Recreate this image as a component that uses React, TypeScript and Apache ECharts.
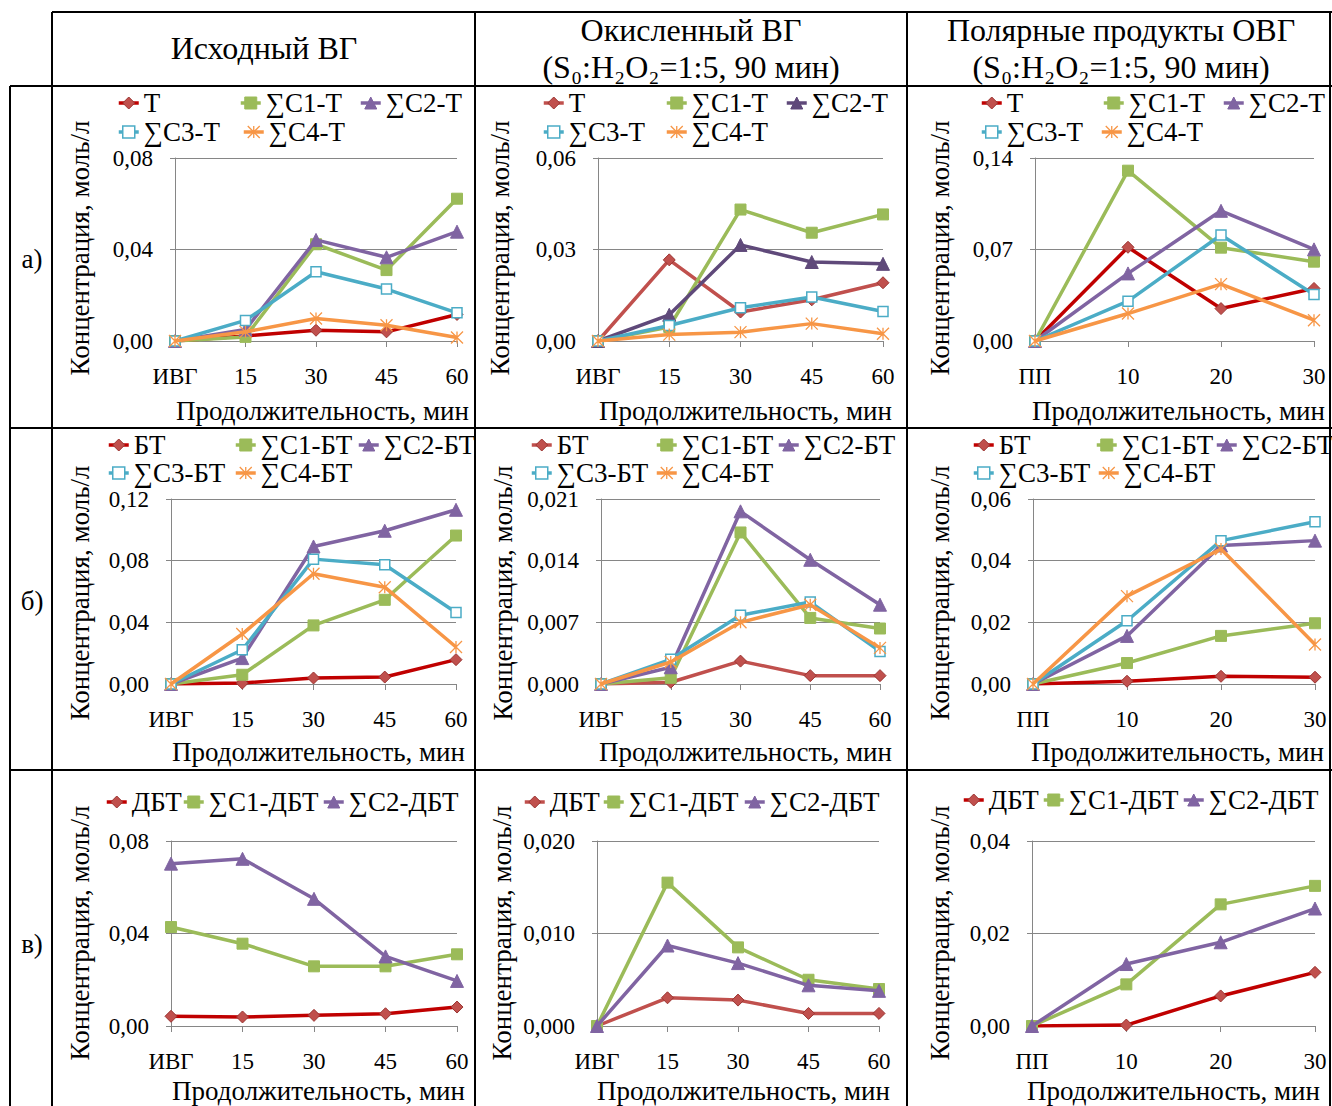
import React, { useEffect, useRef } from 'react';
import * as echarts from 'echarts';

const FONT = "'Liberation Serif', 'Times New Roman', serif";

// ---------- categories ----------
const catsIVG = ['ИВГ', '15', '30', '45', '60'];
const catsPP = ['ПП', '10', '20', '30'];

// ---------- series names ----------
const namesT = ['Т', '∑C1-Т', '∑C2-Т', '∑C3-Т', '∑C4-Т'];
const namesBT = ['БТ', '∑C1-БТ', '∑C2-БТ', '∑C3-БТ', '∑C4-БТ'];
const namesDBT = ['ДБТ', '∑C1-ДБТ', '∑C2-ДБТ'];

// ---------- а) Исходный ВГ ----------
const a1T = [0, 0.0022, 0.0047, 0.004, 0.0116];
const a1C1 = [0, 0.0018, 0.0423, 0.031, 0.0622];
const a1C2 = [0, 0.005, 0.0442, 0.0366, 0.0478];
const a1C3 = [0, 0.009, 0.0303, 0.0227, 0.0123];
const a1C4 = [0, 0.004, 0.0098, 0.0069, 0.0015];
// ---------- а) Окисленный ВГ ----------
const a2T = [0, 0.0266, 0.0095, 0.0135, 0.0191];
const a2C1 = [0, 0.0046, 0.0431, 0.0355, 0.0415];
const a2C2 = [0, 0.0086, 0.0315, 0.0259, 0.0253];
const a2C3 = [0, 0.0051, 0.0109, 0.0144, 0.0097];
const a2C4 = [0, 0.0021, 0.0029, 0.0057, 0.0024];
// ---------- а) Полярные продукты ----------
const a3T = [0, 0.0717, 0.0248, 0.0402];
const a3C1 = [0, 0.1303, 0.0714, 0.0607];
const a3C2 = [0, 0.0517, 0.0996, 0.0701];
const a3C3 = [0, 0.0305, 0.0811, 0.0356];
const a3C4 = [0, 0.021, 0.0435, 0.0159];
// ---------- б) Исходный ВГ ----------
const b1T = [0, 0.0006, 0.0039, 0.0045, 0.0158];
const b1C1 = [0, 0.006, 0.038, 0.0546, 0.0963];
const b1C2 = [0, 0.0168, 0.0892, 0.0994, 0.113];
const b1C3 = [0, 0.0222, 0.081, 0.0773, 0.0464];
const b1C4 = [0, 0.0324, 0.0715, 0.0628, 0.024];
// ---------- б) Окисленный ВГ ----------
const b2T = [0, 0.0002, 0.0026, 0.00095, 0.00095];
const b2C1 = [0, 0.0007, 0.0172, 0.0075, 0.0063];
const b2C2 = [0, 0.0019, 0.0196, 0.0141, 0.009];
const b2C3 = [0, 0.0028, 0.0078, 0.0093, 0.0037];
const b2C4 = [0, 0.0025, 0.007, 0.009, 0.0041];
// ---------- б) Полярные продукты ----------
const b3T = [0, 0.0009, 0.0025, 0.0022];
const b3C1 = [0, 0.0068, 0.0156, 0.0197];
const b3C2 = [0, 0.0156, 0.0449, 0.0465];
const b3C3 = [0, 0.0205, 0.0465, 0.0526];
const b3C4 = [0, 0.0285, 0.0438, 0.0128];
// ---------- в) Исходный ВГ ----------
const c1T = [0.0042, 0.0039, 0.0046, 0.0053, 0.0082];
const c1C1 = [0.0428, 0.0356, 0.0258, 0.0258, 0.031];
const c1C2 = [0.0702, 0.0723, 0.055, 0.0301, 0.0195];
// ---------- в) Окисленный ВГ ----------
const c2T = [0, 0.00305, 0.0028, 0.00136, 0.00136];
const c2C1 = [0, 0.0155, 0.0085, 0.005, 0.004];
const c2C2 = [0, 0.0087, 0.0068, 0.0044, 0.0038];
// ---------- в) Полярные продукты ----------
const c3T = [0, 0.0002, 0.0065, 0.0116];
const c3C1 = [0, 0.009, 0.0263, 0.0303];
const c3C2 = [0, 0.0134, 0.0181, 0.0254];

// ---------- y axes ----------
const yMaxes = [0.08, 0.06, 0.14, 0.12, 0.021, 0.06, 0.08, 0.02, 0.04];
const ySteps = [0.04, 0.03, 0.07, 0.04, 0.007, 0.02, 0.04, 0.01, 0.02];
const yDecimals = [2, 2, 2, 2, 3, 2, 2, 3, 2];

// ---------- headings ----------
const colHeads = ['Исходный ВГ', 'Окисленный ВГ', 'Полярные продукты ОВГ'];
const colSub = '(S₀:H₂O₂=1:5, 90 мин)';
const rowLabels = ['а)', 'б)', 'в)'];
const yTitle = 'Концентрация, моль/л';
const xTitle = 'Продолжительность, мин';

const panels = [
  { cats: catsIVG, names: namesT, values: [a1T, a1C1, a1C2, a1C3, a1C4] },
  { cats: catsIVG, names: namesT, values: [a2T, a2C1, a2C2, a2C3, a2C4] },
  { cats: catsPP, names: namesT, values: [a3T, a3C1, a3C2, a3C3, a3C4] },
  { cats: catsIVG, names: namesBT, values: [b1T, b1C1, b1C2, b1C3, b1C4] },
  { cats: catsIVG, names: namesBT, values: [b2T, b2C1, b2C2, b2C3, b2C4] },
  { cats: catsPP, names: namesBT, values: [b3T, b3C1, b3C2, b3C3, b3C4] },
  { cats: catsIVG, names: namesDBT, values: [c1T, c1C1, c1C2] },
  { cats: catsIVG, names: namesDBT, values: [c2T, c2C1, c2C2] },
  { cats: catsPP, names: namesDBT, values: [c3T, c3C1, c3C2] },
];

// ---------- layout (pixels) ----------
const gridBoxes = [
  [175, 158, 282, 183], [598, 158, 285, 183], [1035, 158, 279, 183],
  [171, 499, 285, 185], [601, 499, 279, 185], [1033, 499, 282, 185],
  [171, 841, 286, 185], [597, 841, 282, 185], [1032, 841, 283, 185],
];
const legendSpots = [
  [[117, 103], [239, 103], [359, 103], [117, 132], [242, 132]],
  [[542, 103], [665, 103], [785, 103], [542, 132], [665, 132]],
  [[980, 103], [1102, 103], [1222, 103], [980, 132], [1100, 132]],
  [[107, 445], [234, 445], [357, 445], [107, 473], [234, 473]],
  [[530, 445], [655, 445], [777, 445], [530, 473], [655, 473]],
  [[972, 445], [1095, 445], [1215, 445], [972, 473], [1097, 473]],
  [[105, 802], [182, 802], [322, 802]],
  [[523, 802], [602, 802], [743, 802]],
  [[962, 800], [1042, 800], [1182, 800]],
];
const yTitlePos = [[80, 248], [500, 248], [940, 248], [80, 593], [503, 593], [940, 593], [80, 933], [502, 933], [940, 933]];
const xTitlePos = [[469, 411], [892, 411], [1325, 411], [465, 752], [892, 752], [1324, 752], [465, 1091], [890, 1091], [1320, 1091]];

// ---------- styles ----------
const RED_DARK = '#C00000';
const RED = '#C0504D';
const GREEN = '#9BBB59';
const PURPLE = '#8064A2';
const PURPLE_DARK = '#5F497A';
const CYAN = '#4BACC6';
const ORANGE = '#F79646';
const AXIS_GRAY = '#868686';
const ASTERISK = 'path://M5,0L5,10M0,0L10,10M10,0L0,10';
const TICK_FS = 23;
const TITLE_FS = 27;
const LEGEND_FS = 27;
const HEAD_FS = 32;
const LINE_W = 3.5;

function styleFor(k: number, p: number) {
  const col = p % 3;
  const row = Math.floor(p / 3);
  const lineColors = [
    col === 1 ? RED : RED_DARK,
    GREEN,
    col === 1 && row === 0 ? PURPLE_DARK : PURPLE,
    CYAN,
    ORANGE,
  ];
  const symbols = ['diamond', 'rect', 'triangle', 'rect', ASTERISK];
  const sizes = [12, 11, 13, 10, 12];
  const items = [
    { color: RED, borderColor: '#9B3532', borderWidth: 1 },
    { color: GREEN, borderColor: GREEN, borderWidth: 1 },
    { color: lineColors[2], borderColor: lineColors[2], borderWidth: 1 },
    { color: '#FFFFFF', borderColor: CYAN, borderWidth: 1.5 },
    { color: ORANGE, borderColor: ORANGE, borderWidth: 1.3 },
  ];
  return { line: lineColors[k], symbol: symbols[k], size: sizes[k], item: items[k] };
}

function buildOption() {
  const grid: any[] = [];
  const xAxis: any[] = [];
  const yAxis: any[] = [];
  const series: any[] = [];
  const legend: any[] = [];
  const els: any[] = [];

  panels.forEach((pan, p) => {
    const [l, t, w, h] = gridBoxes[p];
    grid.push({ left: l, top: t, width: w, height: h, containLabel: false });
    xAxis.push({
      type: 'category',
      gridIndex: p,
      data: pan.cats,
      boundaryGap: false,
      axisLine: { show: true, lineStyle: { color: AXIS_GRAY, width: 1 } },
      axisTick: { show: true, alignWithLabel: true, length: 6, lineStyle: { color: AXIS_GRAY } },
      axisLabel: { interval: 0, margin: 24, fontSize: TICK_FS, fontFamily: FONT, color: '#000' },
      splitLine: { show: false },
    });
    const dec = yDecimals[p];
    yAxis.push({
      type: 'value',
      gridIndex: p,
      min: 0,
      max: yMaxes[p],
      interval: ySteps[p],
      axisLine: { show: true, lineStyle: { color: AXIS_GRAY, width: 1 } },
      axisTick: { show: true, length: 5, lineStyle: { color: AXIS_GRAY } },
      axisLabel: {
        margin: 22,
        fontSize: TICK_FS,
        fontFamily: FONT,
        color: '#000',
        formatter: (v: number) => v.toFixed(dec).replace('.', ','),
      },
      splitLine: { show: true, lineStyle: { color: AXIS_GRAY, width: 1 } },
    });
    pan.values.forEach((vals, k) => {
      const st = styleFor(k, p);
      series.push({
        type: 'line',
        name: pan.names[k],
        xAxisIndex: p,
        yAxisIndex: p,
        data: vals,
        symbol: st.symbol,
        symbolSize: st.size,
        showSymbol: true,
        lineStyle: { color: st.line, width: LINE_W },
        itemStyle: st.item,
        emphasis: { disabled: true },
        z: 2 + k,
      });
      const [lx, ly] = legendSpots[p][k];
      legend.push({
        show: true,
        left: lx,
        top: ly - 14,
        padding: 0,
        itemWidth: 20,
        itemHeight: 15,
        itemGap: 0,
        selectedMode: false,
        textStyle: { fontSize: LEGEND_FS, fontFamily: FONT, color: '#000', lineHeight: 28 },
        data: [{ name: pan.names[k], itemStyle: st.item, lineStyle: { color: st.line, width: LINE_W } }],
      });
    });
    // axis titles
    const [yx, yy] = yTitlePos[p];
    els.push({
      type: 'text',
      x: yx,
      y: yy,
      rotation: Math.PI / 2,
      style: {
        text: yTitle, fontSize: TITLE_FS, fontFamily: FONT, fill: '#000',
        align: 'center', verticalAlign: 'middle', textAlign: 'center', textVerticalAlign: 'middle',
      },
    });
    const [xx, xy] = xTitlePos[p];
    els.push({
      type: 'text',
      x: xx,
      y: xy,
      style: {
        text: xTitle, fontSize: TITLE_FS, fontFamily: FONT, fill: '#000',
        align: 'right', verticalAlign: 'middle', textAlign: 'right', textVerticalAlign: 'middle',
      },
    });
  });

  // table lines
  const lineSegs = [
    [52, 12, 1332, 12], [10, 86, 1332, 86], [10, 428, 1332, 428], [10, 770, 1332, 770],
    [10, 86, 10, 1106], [52, 12, 52, 1106], [475, 12, 475, 1106], [907, 12, 907, 1106], [1330, 12, 1330, 1106],
  ];
  lineSegs.forEach(([x1, y1, x2, y2]) => {
    els.push({ type: 'line', shape: { x1, y1, x2, y2 }, style: { stroke: '#000', lineWidth: 2 }, z: 100 });
  });

  const headText = (text: string, x: number, y: number, fs: number) => ({
    type: 'text', x, y,
    style: {
      text, fontSize: fs, fontFamily: FONT, fill: '#000',
      align: 'center', verticalAlign: 'middle', textAlign: 'center', textVerticalAlign: 'middle',
    },
  });
  els.push(headText(colHeads[0], 264, 48, HEAD_FS));
  els.push(headText(colHeads[1], 691, 30, HEAD_FS));
  els.push(headText(colSub, 691, 67, HEAD_FS));
  els.push(headText(colHeads[2], 1121, 30, HEAD_FS));
  els.push(headText(colSub, 1121, 67, HEAD_FS));
  const rowY = [259, 601, 944];
  rowLabels.forEach((t, i) => els.push(headText(t, 32, rowY[i], 27)));

  return {
    animation: false,
    backgroundColor: '#FFFFFF',
    grid,
    xAxis,
    yAxis,
    series,
    legend,
    graphic: { elements: els },
  };
}

export default function App() {
  const ref = useRef<HTMLDivElement>(null);
  useEffect(() => {
    if (!ref.current) return;
    const chart = echarts.init(ref.current, undefined, { renderer: 'svg' });
    chart.setOption(buildOption() as any);
    return () => chart.dispose();
  }, []);
  return (
    <div
      ref={ref}
      style={{ position: 'absolute', left: 0, top: 0, width: 1332, height: 1106, background: '#fff' }}
    />
  );
}
